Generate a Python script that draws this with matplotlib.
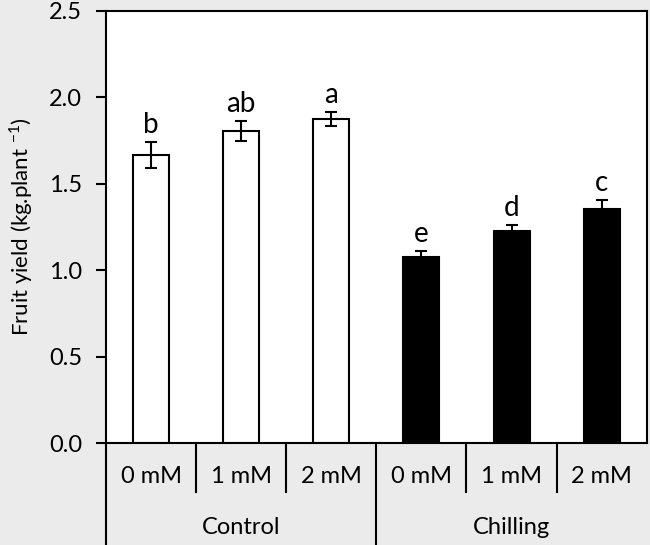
import matplotlib.pyplot as plt
import numpy as np

plt.rcParams["font.family"] = ["Lato", "DejaVu Sans"]
plt.rcParams["mathtext.fontset"] = "custom"
plt.rcParams["mathtext.rm"] = "Lato"

doses = ["0 mM", "1 mM", "2 mM", "0 mM", "1 mM", "2 mM"]
groups = ["Control", "Chilling"]
yield_mean = [1.667, 1.805, 1.875, 1.077, 1.225, 1.352]
yield_err = [0.073, 0.057, 0.042, 0.036, 0.035, 0.055]
letters = ["b", "ab", "a", "e", "d", "c"]
fills = ["white", "white", "white", "black", "black", "black"]

bg = "#ebebeb"
fig = plt.figure(figsize=(6.5, 5.45), dpi=100, facecolor=bg)
ax = fig.add_axes([0.163, 0.187, 0.832, 0.793])

x = np.arange(len(yield_mean))
ax.bar(x, yield_mean, width=0.4, color=fills, edgecolor="black", linewidth=1.5, zorder=2)
ax.errorbar(x, yield_mean, yerr=yield_err, fmt="none", ecolor="black",
            elinewidth=1.5, capsize=4, capthick=1.5, zorder=3)
for xi, m, e, lab in zip(x, yield_mean, yield_err, letters):
    ax.annotate(lab, (xi, m + e), xytext=(0, 3), textcoords="offset points",
                ha="center", va="bottom", fontsize=20)

ax.set_xlim(-0.5, 5.5)
ax.set_ylim(0, 2.5)
ax.set_yticks(np.arange(0, 2.51, 0.5))
ax.set_yticklabels([f"{v:.1f}" for v in np.arange(0, 2.51, 0.5)])
ax.tick_params(axis="y", direction="out", length=7, width=1.5, labelsize=17, pad=10)
ax.set_xticks([])
for s in ax.spines.values():
    s.set_linewidth(1.5)
ax.set_ylabel(r"Fruit yield (kg.plant $^{-1}$)", fontsize=16, labelpad=10)

# category axis below the bars
tr = ax.get_xaxis_transform()
for sep in [0.5, 1.5, 3.5, 4.5]:
    ax.plot([sep, sep], [0, -0.113], color="black", lw=1.5, transform=tr, clip_on=False)
for sep in [-0.5, 2.5]:
    ax.plot([sep, sep], [0, -0.236], color="black", lw=1.5, transform=tr, clip_on=False)
for xi, d in zip(x, doses):
    ax.text(xi, -0.078, d, transform=tr, ha="center", va="center", fontsize=17)
for gi, g in enumerate(groups):
    ax.text(gi * 3 + 1, -0.195, g, transform=tr, ha="center", va="center", fontsize=17)

fig.savefig("out.png", dpi=100, facecolor=bg)
